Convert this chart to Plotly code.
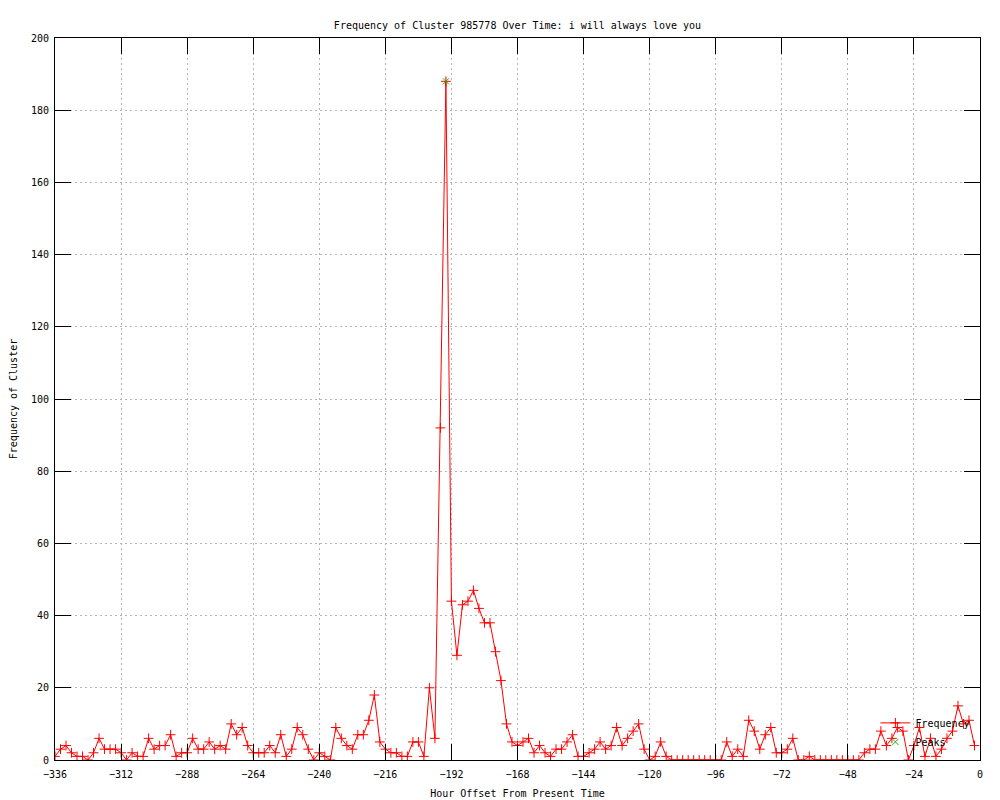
import plotly.graph_objects as go

hours = list(range(-336, 0, 2))
freq = [
    1, 3, 4, 2, 1, 1, 0, 2, 6, 3, 3, 3,          # -336 .. -314
    2, 0, 2, 1, 1, 6, 3, 4, 4, 7, 1, 2,          # -312 .. -290
    2, 6, 3, 3, 5, 3, 4, 3, 10, 7, 9, 4,         # -288 .. -266
    2, 2, 2, 4, 2, 7, 1, 3, 9, 7, 3, 0,          # -264 .. -242
    2, 1, 0, 9, 6, 4, 3, 7, 7, 11, 18, 5,        # -240 .. -218
    3, 2, 2, 1, 1, 5, 5, 1, 20, 6, 92, 188,      # -216 .. -194
    44, 29, 43, 44, 47, 42, 38, 38, 30, 22, 10, 5,  # -192 .. -170
    4, 5, 6, 2, 4, 2, 1, 3, 3, 5, 7, 1,          # -168 .. -146
    1, 2, 3, 5, 3, 4, 9, 4, 6, 8, 10, 3,         # -144 .. -122
    0, 1, 5, 1, 0, 0, 0, 0, 0, 0, 0, 0,          # -120 .. -98
    0, 0, 5, 1, 3, 1, 11, 8, 3, 7, 9, 2,         # -96 .. -74
    2, 3, 6, 0, 0, 1, 0, 0, 0, 0, 0, 0,          # -72 .. -50
    0, 0, 0, 2, 3, 3, 8, 4, 6, 9, 8, 0,          # -48 .. -26
    4, 9, 1, 6, 1, 3, 6, 8, 15, 10, 11, 4,       # -24 .. -2
]
assert len(freq) == len(hours), (len(freq), len(hours))

peak_x = [-194]
peak_y = [188]

x_ticks = list(range(-336, 1, 24))
y_ticks = list(range(0, 201, 20))

FONT = "DejaVu Sans Mono"

fig = go.Figure()
fig.add_trace(go.Scatter(
    x=hours, y=freq, mode="lines+markers", name="Frequency",
    line=dict(color="#ff0000", width=1),
    marker=dict(symbol="cross-thin-open", size=7, color="#ff0000",
                line=dict(color="#ff0000", width=1)),
))
fig.add_trace(go.Scatter(
    x=peak_x, y=peak_y, mode="markers", name="Peaks",
    marker=dict(symbol="x-thin-open", size=6, color="#00c000",
                line=dict(color="#00c000", width=1)),
))

axis_common = dict(
    showline=True, linecolor="black", linewidth=1, mirror="allticks",
    ticks="inside", ticklen=16, tickcolor="black", tickwidth=1,
    showgrid=True, gridcolor="#b4b4b4", griddash="2px,3px", gridwidth=1,
    zeroline=False, automargin=False,
    tickfont=dict(family=FONT, size=10, color="black"),
)

fig.update_layout(
    width=1000, height=800,
    margin=dict(l=47, r=28, t=30, b=48),
    paper_bgcolor="white", plot_bgcolor="white",
    font=dict(family=FONT, size=10, color="black"),
    title=dict(text="Frequency of Cluster 985778 Over Time: i will always love you",
               x=0.5, xref="paper", xanchor="center", y=0.978, yanchor="middle",
               font=dict(family=FONT, size=10, color="black")),
    xaxis=dict(range=[-336, 0], tickvals=x_ticks,
               ticktext=[("\u2212" + str(-v)) if v < 0 else str(v) for v in x_ticks],
               ticklabelstandoff=5,
               title=dict(text="Hour Offset From Present Time", standoff=10,
                          font=dict(family=FONT, size=10)),
               **axis_common),
    yaxis=dict(range=[0, 200], tickvals=y_ticks,
               ticklabelstandoff=3,
               title=dict(text="Frequency of Cluster", standoff=12,
                          font=dict(family=FONT, size=10)),
               **axis_common),
    legend=dict(x=0.995, y=0.005, xanchor="right", yanchor="bottom",
                bgcolor="rgba(0,0,0,0)", borderwidth=0,
                font=dict(family=FONT, size=10),
                tracegroupgap=0, itemwidth=30),
    showlegend=True,
)

fig.write_html("out.html")
